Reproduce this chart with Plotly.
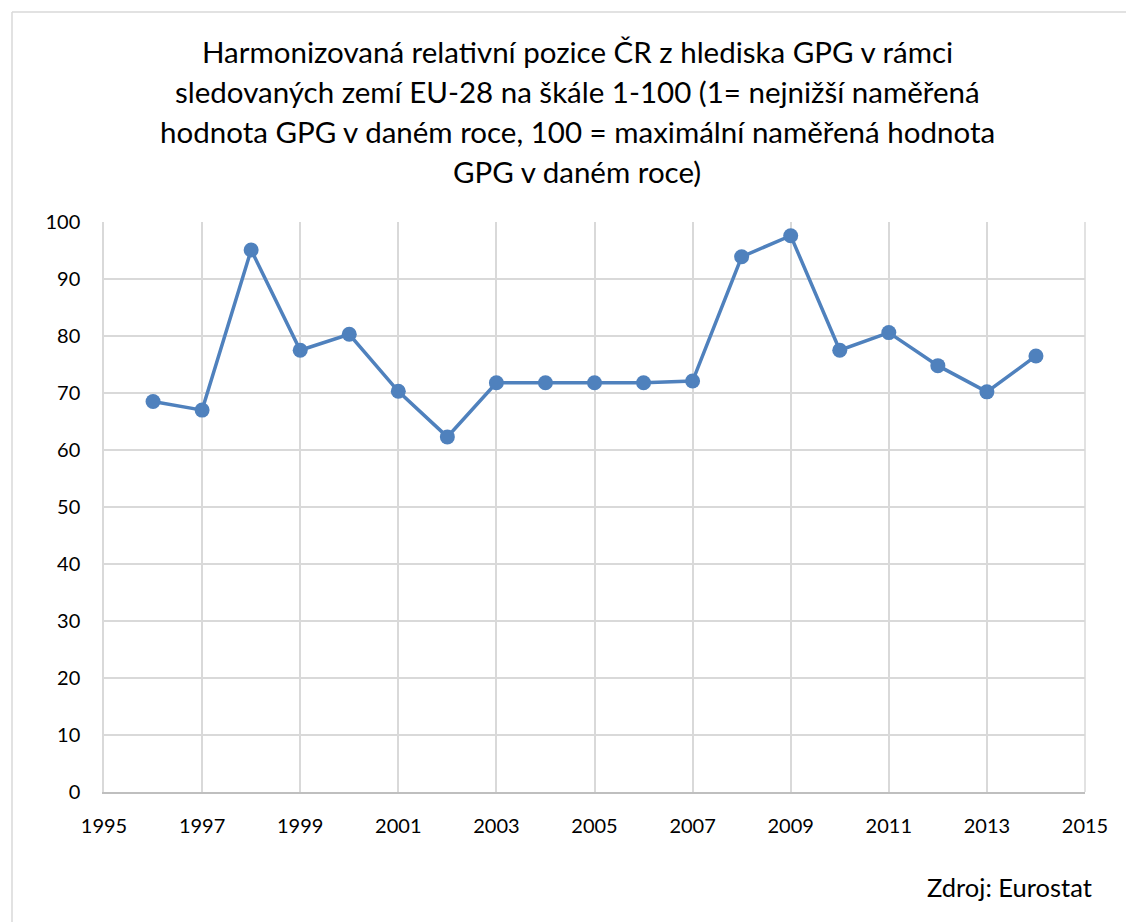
import plotly.graph_objects as go

years = [1996, 1997, 1998, 1999, 2000, 2001, 2002, 2003, 2004, 2005,
         2006, 2007, 2008, 2009, 2010, 2011, 2012, 2013, 2014]
values = [68.5, 67.0, 95.1, 77.5, 80.3, 70.3, 62.3, 71.8, 71.8, 71.8,
          71.8, 72.1, 93.9, 97.6, 77.5, 80.6, 74.8, 70.2, 76.5]
title_lines = [
    "Harmonizovaná relativní pozice ČR z hlediska GPG v rámci",
    "sledovaných zemí EU-28 na škále 1-100 (1= nejnižší naměřená",
    "hodnota GPG v daném roce, 100 = maximální naměřená hodnota",
    "GPG v daném roce)",
]
source = "Zdroj: Eurostat"

FONT = "Lato, 'Open Sans', sans-serif"
W, H = 1126, 922
L, R, T, B = 104, 41, 222, 130
pw, ph = W - L - R, H - T - B

fig = go.Figure()
fig.add_trace(go.Scatter(
    x=years, y=values, mode="lines+markers",
    line=dict(color="#4f81bd", width=3.5),
    marker=dict(color="#4f81bd", size=15),
    showlegend=False, cliponaxis=False, hoverinfo="skip",
))

def py(pix):
    return (H - B - pix) / ph

def px(pix):
    return (pix - L) / pw

annotations = []
for i, t in enumerate(title_lines):
    annotations.append(dict(
        text=t, x=px(577), y=py(52 + i * 40),
        xref="paper", yref="paper", xanchor="center", yanchor="middle",
        showarrow=False, font=dict(family=FONT, size=29.5, color="#000000"),
    ))
annotations.append(dict(
    text=source, x=px(1094), y=py(887), xref="paper", yref="paper",
    xanchor="right", yanchor="middle", showarrow=False,
    font=dict(family=FONT, size=25.5, color="#000000"),
))

shapes = [
    dict(type="line", xref="paper", yref="paper", x0=px(12), x1=px(12),
         y0=py(12), y1=py(930), line=dict(color="#d9d9d9", width=1.5)),
    dict(type="line", xref="paper", yref="paper", x0=px(12), x1=px(1130),
         y0=py(12), y1=py(12), line=dict(color="#d9d9d9", width=1.5)),
    dict(type="line", xref="paper", yref="paper", x0=1, x1=1, y0=0, y1=1,
         line=dict(color="#d9d9d9", width=1.5), layer="below"),
]

fig.update_layout(
    width=W, height=H,
    margin=dict(l=L, r=R, t=T, b=B, autoexpand=False),
    paper_bgcolor="white", plot_bgcolor="white",
    font=dict(family=FONT, size=20, color="#000000"),
    annotations=annotations, shapes=shapes,
    xaxis=dict(range=[1995, 2015], tick0=1995, dtick=2, showgrid=True,
               gridcolor="#d9d9d9", gridwidth=1.5, zeroline=False,
               showline=True, linecolor="#bfbfbf", linewidth=1.5,
               ticks="outside", ticklen=15, tickcolor="rgba(0,0,0,0)",
               tickfont=dict(size=20)),
    yaxis=dict(range=[0, 100], dtick=10, showgrid=True, gridcolor="#d9d9d9",
               gridwidth=1.5, zeroline=False, showline=True,
               linecolor="#d9d9d9", linewidth=1.5, ticks="outside",
               ticklen=18, tickcolor="rgba(0,0,0,0)", tickfont=dict(size=20)),
)
fig.write_html("out.html", config={"displayModeBar": False},
               post_script="document.body.style.margin='0';document.body.style.overflow='hidden';")
